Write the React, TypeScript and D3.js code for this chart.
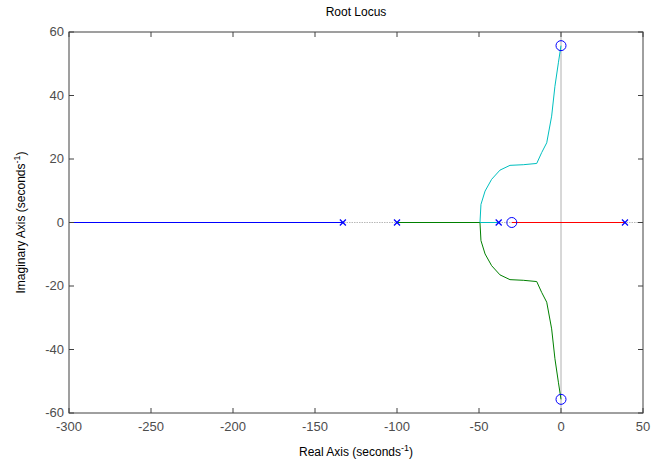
import React from 'react';
import * as d3 from 'd3';

const width = 661;
const height = 462;
const margin = { left: 69, right: 18, top: 32, bottom: 49 };

const xTicks = [-300, -250, -200, -150, -100, -50, 0, 50];
const yTicks = [-60, -40, -20, 0, 20, 40, 60];

// open-loop poles and zeros (real, imag)
const poles = [[-133, 0], [-100, 0], [-38, 0], [39, 0]];
const zeros = [[-30, 0], [0, 55.7], [0, -55.7]];

// branches
const blueBranch = [[-133, 0], [-300, 0]];
const redBranch = [[39, 0], [-30, 0]];
const greenReal = [[-100, 0], [-49.4, 0]];
const cyanReal = [[-38, 0], [-49.4, 0]];
// upper complex branch (cyan), lower is its conjugate (green)
const upperBranch = [
  [-49.4, 0], [-48.8, 5.7], [-46.3, 9.9], [-42.3, 13.6], [-37.2, 16.5],
  [-31.1, 18.0], [-23, 18.2], [-14.8, 18.6], [-11.8, 22], [-8.7, 25.1],
  [-5.7, 33.5], [-3.7, 42.9], [-1.6, 50.3], [0, 55.7],
];

const App = () => {
  const x = d3.scaleLinear().domain([-300, 50]).range([margin.left, width - margin.right]);
  const y = d3.scaleLinear().domain([-60, 60]).range([height - margin.bottom, margin.top]);
  const line = d3.line<number[]>().x(d => x(d[0])).y(d => y(d[1]));
  const lowerBranch = upperBranch.map(d => [d[0], -d[1]]);

  const x0 = margin.left, x1 = width - margin.right;
  const y0 = margin.top, y1 = height - margin.bottom;
  const tk = 5;
  const font = 'Liberation Sans, Arial, sans-serif';

  return (
    <svg width={width} height={height} style={{ position: 'absolute', left: 0, top: 0 }}>
      <rect width={width} height={height} fill="#fff" />
      <text x={(x0 + x1) / 2} y={16} textAnchor="middle" fontFamily={font} fontSize={12} fill="#000">Root Locus</text>

      {/* zero lines */}
      <line x1={x0} x2={x1} y1={y(0)} y2={y(0)} stroke="#b8b8b8" strokeWidth={1} strokeDasharray="1.5,1" />
      <line x1={x(0)} x2={x(0)} y1={y0} y2={y1} stroke="#b0b0b0" strokeWidth={1} />

      <path d={line(blueBranch)!} fill="none" stroke="#0000ff" strokeWidth={1} />
      <path d={line(greenReal)!} fill="none" stroke="#008000" strokeWidth={1} />
      <path d={line(lowerBranch)!} fill="none" stroke="#008000" strokeWidth={1} />
      <path d={line(cyanReal)!} fill="none" stroke="#00bfbf" strokeWidth={1} />
      <path d={line(upperBranch)!} fill="none" stroke="#00bfbf" strokeWidth={1} />
      <path d={line(redBranch)!} fill="none" stroke="#ff0000" strokeWidth={1} />

      {poles.map((p, i) => (
        <g key={'p' + i} stroke="#0000ff" strokeWidth={1.2}>
          <line x1={x(p[0]) - 3} x2={x(p[0]) + 3} y1={y(p[1]) - 3} y2={y(p[1]) + 3} />
          <line x1={x(p[0]) - 3} x2={x(p[0]) + 3} y1={y(p[1]) + 3} y2={y(p[1]) - 3} />
        </g>
      ))}
      {zeros.map((z, i) => (
        <circle key={'z' + i} cx={x(z[0])} cy={y(z[1])} r={5} fill="none" stroke="#0000ff" strokeWidth={1} />
      ))}

      {/* frame and ticks */}
      <rect x={x0} y={y0} width={x1 - x0} height={y1 - y0} fill="none" stroke="#404040" strokeWidth={1} />
      {xTicks.map(t => (
        <g key={'xt' + t}>
          <line x1={x(t)} x2={x(t)} y1={y1} y2={y1 - tk} stroke="#404040" />
          <line x1={x(t)} x2={x(t)} y1={y0} y2={y0 + tk} stroke="#404040" />
          <text x={x(t)} y={y1 + 18} textAnchor="middle" fontFamily={font} fontSize={13} fill="#4d4d4d">{t}</text>
        </g>
      ))}
      {yTicks.map(t => (
        <g key={'yt' + t}>
          <line x1={x0} x2={x0 + tk} y1={y(t)} y2={y(t)} stroke="#404040" />
          <line x1={x1} x2={x1 - tk} y1={y(t)} y2={y(t)} stroke="#404040" />
          <text x={x0 - 5} y={y(t) + 4} textAnchor="end" fontFamily={font} fontSize={13} fill="#4d4d4d">{t}</text>
        </g>
      ))}

      <text x={(x0 + x1) / 2} y={456} textAnchor="middle" fontFamily={font} fontSize={12} fill="#000">
        Real Axis (seconds<tspan dy={-5} fontSize={9}>-1</tspan><tspan dy={5}>)</tspan>
      </text>
      <text transform={`translate(25,${(y0 + y1) / 2}) rotate(-90)`} textAnchor="middle" fontFamily={font} fontSize={12} fill="#000">
        Imaginary Axis (seconds<tspan dy={-5} fontSize={9}>-1</tspan><tspan dy={5}>)</tspan>
      </text>
    </svg>
  );
};

export default App;
